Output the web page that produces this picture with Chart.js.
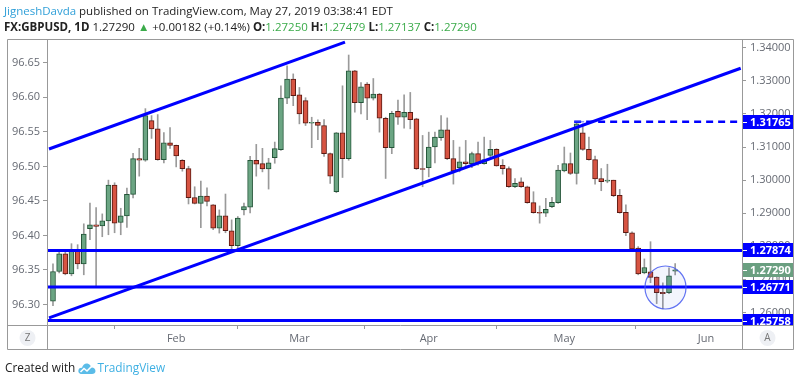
<!DOCTYPE html>
<html><head><meta charset="utf-8">
<script src="https://cdn.jsdelivr.net/npm/chart.js@4.4.1/dist/chart.umd.min.js"></script>
<style>
html,body{margin:0;padding:0;background:#fff;width:800px;height:384px;overflow:hidden}
#wrap{position:relative;width:800px;height:384px}
#c{position:absolute;left:0;top:0}
.t{position:absolute;white-space:nowrap;font-family:"Open Sans",sans-serif;color:#222;line-height:16px}
#h1{left:4px;top:3px;font-size:13px}
#h2{left:4px;top:19px;font-size:13px}
.au{color:#2f9fd8}
.g{color:#3bab4a}
#ft{left:5px;top:359px;font-size:12px;color:#222}
#ft .tv{color:#3fb0e3}
#ft svg{vertical-align:-3px;margin:0 1px 0 3px}
</style></head>
<body><div id="wrap">
<canvas id="c" width="800" height="384"></canvas>
<div class="t" id="h1"><span class="au">JigneshDavda</span> published on TradingView.com, May 27, 2019 03:38:41 EDT</div>
<div class="t" id="h2"><b>FX:GBPUSD, 1D</b> 1.27290 <span class="g">&#9650;</span> +0.00182 (+0.14%) <b>O:</b><span class="g">1.27250</span> <b>H:</b><span class="g">1.27479</span> <b>L:</b><span class="g">1.27137</span> <b>C:</b><span class="g">1.27290</span></div>
<div class="t" id="ft">Created with<svg width="18" height="14" viewBox="0 0 18 14"><path d="M4 13 C1 13 0 11 0.5 9 C1 7 3 6.5 4 7 C4.5 4 7 2 9.5 2.5 C12 3 13 5 13 6.5 C15.5 6 17.5 8 17.5 10 C17.5 12 16 13 14 13 Z" fill="#5bbce8"/><path d="M2.5 11 L6 7.5 L9 10 L14 5" stroke="#fff" stroke-width="1.6" fill="none"/></svg><span class="tv">TradingView</span></div>
</div>
<script>
// ---- data ----
const dates = ['2019-01-04','2019-01-07','2019-01-08','2019-01-09','2019-01-10','2019-01-11','2019-01-14','2019-01-15','2019-01-16','2019-01-17','2019-01-18','2019-01-21','2019-01-22','2019-01-23','2019-01-24','2019-01-25','2019-01-28','2019-01-29','2019-01-30','2019-01-31',
'2019-02-01','2019-02-04','2019-02-05','2019-02-06','2019-02-07','2019-02-08','2019-02-11','2019-02-12','2019-02-13','2019-02-14','2019-02-15','2019-02-18','2019-02-19','2019-02-20','2019-02-21','2019-02-22','2019-02-25','2019-02-26','2019-02-27','2019-02-28',
'2019-03-01','2019-03-04','2019-03-05','2019-03-06','2019-03-07','2019-03-08','2019-03-11','2019-03-12','2019-03-13','2019-03-14','2019-03-15','2019-03-18','2019-03-19','2019-03-20','2019-03-21','2019-03-22','2019-03-25','2019-03-26','2019-03-27','2019-03-28','2019-03-29',
'2019-04-01','2019-04-02','2019-04-03','2019-04-04','2019-04-05','2019-04-08','2019-04-09','2019-04-10','2019-04-11','2019-04-12','2019-04-15','2019-04-16','2019-04-17','2019-04-18','2019-04-19','2019-04-22','2019-04-23','2019-04-24','2019-04-25','2019-04-26','2019-04-29','2019-04-30',
'2019-05-01','2019-05-02','2019-05-03','2019-05-06','2019-05-07','2019-05-08','2019-05-09','2019-05-10','2019-05-13','2019-05-14','2019-05-15','2019-05-16','2019-05-17','2019-05-20','2019-05-21','2019-05-22','2019-05-23','2019-05-24','2019-05-27'];
const open  = [1.2634,1.2724,1.2777,1.2717,1.2790,1.2747,1.2853,1.2865,1.2862,1.2877,1.2985,1.2872,1.2892,1.2957,1.3065,1.3060,1.3180,1.3155,1.3062,1.3113,
1.3105,1.3060,1.3035,1.2947,1.2930,1.2952,1.2925,1.2855,1.2892,1.2847,1.2802,1.2910,1.2918,1.3060,1.3050,1.3034,1.3068,1.3092,1.3248,1.3305,
1.3258,1.3240,1.3172,1.3175,1.3165,1.3080,1.2965,1.3143,1.3065,1.3330,1.3234,1.3290,1.3248,1.3260,1.3187,1.3098,1.3208,1.3190,1.3205,1.3185,1.3035,
1.3038,1.3100,1.3128,1.3152,1.3065,1.3038,1.3055,1.3050,1.3080,1.3050,1.3075,1.3093,1.3045,1.3035,1.2980,1.2995,1.2980,1.2932,1.2903,1.2900,1.2920,1.2932,
1.3028,1.3050,1.3020,1.3143,1.3093,1.3062,1.3005,1.2997,1.3000,1.2954,1.2903,1.2841,1.2795,1.2720,1.2723,1.2707,1.2661,1.2660,1.2725];
const high  = [1.2747,1.2787,1.2787,1.2808,1.2805,1.2868,1.2931,1.2917,1.2898,1.3000,1.2992,1.2915,1.2976,1.3081,1.3096,1.3216,1.3195,1.3198,1.3144,1.3159,
1.3106,1.3062,1.3042,1.2980,1.2997,1.2977,1.2926,1.2910,1.2958,1.2880,1.2890,1.2931,1.3072,1.3108,1.3096,1.3066,1.3115,1.3285,1.3345,1.3321,
1.3280,1.3249,1.3190,1.3182,1.3183,1.3082,1.3144,1.3285,1.3378,1.3332,1.3295,1.3295,1.3307,1.3262,1.3190,1.3208,1.3242,1.3258,1.3265,1.3187,1.3135,
1.3145,1.3145,1.3195,1.3188,1.3120,1.3100,1.3120,1.3085,1.3115,1.3130,1.3120,1.3095,1.3062,1.3040,1.3005,1.3007,1.2982,1.2965,1.2922,1.2945,1.2948,1.3045,
1.3100,1.3082,1.31765,1.3170,1.3130,1.3073,1.3035,1.3048,1.3000,1.2972,1.2925,1.2844,1.2799,1.2762,1.2814,1.2708,1.2690,1.2735,1.27479];
const low   = [1.2621,1.2720,1.2714,1.2711,1.2732,1.2714,1.2820,1.2675,1.2829,1.2835,1.2841,1.2835,1.2857,1.2946,1.3012,1.3057,1.3126,1.3060,1.3052,1.3096,
1.3040,1.3027,1.2928,1.2928,1.2856,1.2922,1.2850,1.2840,1.2841,1.2781,1.2784,1.2895,1.2901,1.3012,1.3025,1.2973,1.3051,1.3090,1.3231,1.3225,
1.3170,1.3165,1.3098,1.3122,1.3072,1.2990,1.2962,1.3008,1.3060,1.3205,1.3200,1.3183,1.3242,1.3145,1.3005,1.3080,1.3168,1.3157,1.3155,1.3032,1.2980,
1.3010,1.3052,1.3120,1.3062,1.2988,1.3025,1.3038,1.3038,1.3045,1.3048,1.3070,1.3042,1.3018,1.2978,1.2977,1.2978,1.2930,1.2900,1.2870,1.2890,1.2917,1.2930,
1.3025,1.3017,1.2988,1.3090,1.3060,1.2988,1.2968,1.2992,1.2950,1.2900,1.2832,1.2790,1.2714,1.2717,1.2690,1.2627,1.2611,1.2657,1.27137];
const close = [1.2724,1.2777,1.2717,1.2790,1.2747,1.2837,1.2865,1.2860,1.2877,1.2985,1.2870,1.2892,1.2957,1.3065,1.3060,1.3195,1.3155,1.3062,1.3113,1.3105,
1.3073,1.3035,1.2947,1.2930,1.2952,1.2936,1.2855,1.2892,1.2847,1.2802,1.2885,1.2920,1.3060,1.3048,1.3034,1.3052,1.3095,1.3248,1.3305,1.3255,
1.3200,1.3172,1.3175,1.3165,1.3080,1.3012,1.3143,1.3065,1.3330,1.3234,1.3282,1.3248,1.3260,1.3187,1.3098,1.3202,1.3190,1.3205,1.3183,1.3035,1.3032,
1.3100,1.3130,1.3152,1.3065,1.3028,1.3055,1.3050,1.3080,1.3050,1.3062,1.3093,1.3043,1.3035,1.2980,1.2990,1.2980,1.2932,1.2902,1.2900,1.2912,1.2933,1.3030,
1.3050,1.3020,1.3170,1.3093,1.3062,1.3004,1.2995,1.3000,1.2953,1.2902,1.2841,1.2792,1.2717,1.2736,1.2706,1.2660,1.2657,1.2711,1.2729];
const monthTickIndex  = [20, 40, 61, 83, 106];
const monthTickLabels = ['Feb','Mar','Apr','May','Jun'];
const rightTicks = [1.26,1.27,1.28,1.29,1.30,1.31,1.32,1.33,1.34];
const leftTicks  = [96.30,96.35,96.40,96.45,96.50,96.55,96.60,96.65];
const levelLines = [1.27874, 1.26771, 1.25758];
const dashedLevel = 1.31765;
const dashedStartIndex = 84.6;
const lastPrice = 1.27290;
const channelUpper = [[-0.65, 1.3094], [47.4, 1.3417]];
const channelLower = [[-0.65, 1.2584], [111.64, 1.3338]];
const circleCenter = [99.43, 1.26756];
const circleRadius = [3.33, 0.0065];   // in bars, in price

// ---- chart ----
const GREEN='#6ba583', GREEN_B='#225437', RED='#d75442', RED_B='#5b1a13';
const BLUE='#0000ff';
const AX='#999999', TXT='#666a73';
const FONT='"Open Sans", sans-serif';
const up = close.map((c,i)=>c>=open[i]);

const overlay = {
  id:'overlay',
  afterDatasetsDraw(chart){
    const {ctx, chartArea:a, scales:{x,y}} = chart;
    ctx.save();
    ctx.beginPath(); ctx.rect(a.left,a.top,a.right-a.left,a.bottom-a.top); ctx.clip();
    ctx.strokeStyle=BLUE; ctx.lineWidth=3; ctx.lineCap='butt';
    levelLines.forEach(v=>{const yy=y.getPixelForValue(v); ctx.beginPath(); ctx.moveTo(a.left,yy); ctx.lineTo(a.right,yy); ctx.stroke();});
    [channelUpper, channelLower].forEach(l=>{
      ctx.beginPath(); ctx.moveTo(x.getPixelForValue(l[0][0]), y.getPixelForValue(l[0][1]));
      ctx.lineTo(x.getPixelForValue(l[1][0]), y.getPixelForValue(l[1][1])); ctx.stroke();
    });
    // dashed level
    const dy=y.getPixelForValue(dashedLevel), dx=x.getPixelForValue(dashedStartIndex);
    ctx.lineWidth=2.5; ctx.setLineDash([7,5]);
    ctx.beginPath(); ctx.moveTo(dx,dy); ctx.lineTo(a.right,dy); ctx.stroke();
    ctx.setLineDash([]);
    ctx.strokeStyle='rgba(60,80,255,0.6)'; ctx.lineWidth=1.5;
    ctx.beginPath(); ctx.moveTo(dx,dy); ctx.lineTo(dx+10,dy); ctx.stroke();
    // ellipse
    const cx=x.getPixelForValue(circleCenter[0]), cy=y.getPixelForValue(circleCenter[1]);
    const rx=Math.abs(x.getPixelForValue(circleCenter[0]+circleRadius[0])-cx);
    const ry=Math.abs(y.getPixelForValue(circleCenter[1]+circleRadius[1])-cy);
    ctx.beginPath(); ctx.ellipse(cx,cy,rx,ry,0,0,Math.PI*2);
    ctx.fillStyle='rgba(90,110,230,0.07)'; ctx.fill();
    ctx.strokeStyle='rgba(70,90,240,0.85)'; ctx.lineWidth=1.2; ctx.stroke();
    ctx.restore();
  },
  afterDraw(chart){
    const {ctx, chartArea:a, scales:{y}} = chart;
    ctx.save();
    // price boxes
    ctx.beginPath(); ctx.rect(a.right-1, a.top, 60, a.bottom-a.top); ctx.clip();
    const box=(v,col)=>{
      const yy=Math.round(y.getPixelForValue(v));
      ctx.fillStyle=col; ctx.fillRect(a.right, yy-7, 51, 14);
      ctx.strokeStyle='#ffffff'; ctx.lineWidth=1; ctx.beginPath(); ctx.moveTo(a.right+1,yy+0.5); ctx.lineTo(a.right+5,yy+0.5); ctx.stroke();
      ctx.fillStyle='#fff'; ctx.font='bold 11px '+FONT; ctx.textAlign='left'; ctx.textBaseline='middle';
      ctx.fillText(v.toFixed(5), a.right+8, yy+0.5);
    };
    box(lastPrice,'#6a9f80');
    box(dashedLevel,BLUE);
    levelLines.forEach(v=>box(v,BLUE));
    ctx.restore();
    // frame
    ctx.save();
    ctx.strokeStyle=AX; ctx.lineWidth=1;
    ctx.beginPath();
    ctx.rect(7.5, 39.5, 786, 310);
    ctx.moveTo(a.left-0.5, 39.5); ctx.lineTo(a.left-0.5, 349.5);
    ctx.moveTo(a.right+0.5, 39.5); ctx.lineTo(a.right+0.5, 349.5);
    ctx.moveTo(7.5, a.bottom+0.5); ctx.lineTo(793.5, a.bottom+0.5);
    ctx.stroke();
    // Z / A buttons
    [[27.5,'Z'],[767.5,'A']].forEach(([bx,t])=>{
      ctx.beginPath(); ctx.arc(bx,338,8,0,Math.PI*2); ctx.fillStyle='#eef0f4'; ctx.fill();
      ctx.fillStyle='#777'; ctx.font='10px '+FONT; ctx.textAlign='center'; ctx.textBaseline='middle'; ctx.fillText(t,bx,338.5);
    });
    ctx.restore();
  }
};

new Chart(document.getElementById('c'), {
  type:'bar',
  data:{
    labels: dates,
    datasets:[
      { label:'wick', data: dates.map((d,i)=>({x:i, y:[low[i],high[i]]})), backgroundColor:'#9a9a9a',
        barThickness:1, grouped:false, order:2, xAxisID:'x', yAxisID:'y' },
      { label:'body', data: dates.map((d,i)=>({x:i, y:[open[i],close[i]]})),
        backgroundColor: up.map(u=>u?GREEN:RED), borderColor: up.map(u=>u?GREEN_B:RED_B),
        borderWidth:1, borderSkipped:false, barThickness:5, grouped:false, order:1, xAxisID:'x', yAxisID:'y' }
    ]
  },
  options:{
    responsive:false, animation:false, devicePixelRatio:1, events:[],
    layout:{padding:{left:7, right:7, top:39, bottom:35}},
    plugins:{legend:{display:false}, tooltip:{enabled:false}},
    scales:{
      x:{ type:'linear', position:'bottom', min:-0.81, max:111.85, offset:false,
        grid:{display:true, drawOnChartArea:false, drawTicks:true, tickLength:4, color:AX},
        border:{display:false},
        ticks:{autoSkip:false, maxRotation:0, padding:3, color:TXT, font:{family:FONT, size:11},
          callback:v=>{const k=monthTickIndex.indexOf(v); return k>=0?monthTickLabels[k]:'';}},
        afterBuildTicks:s=>{s.ticks=monthTickIndex.map(v=>({value:v}));},
        afterFit:s=>{s.height=24;} },
      y:{ type:'linear', position:'right', min:1.25623, max:1.34264, beginAtZero:false,
        grid:{display:true, drawOnChartArea:false, drawTicks:true, tickLength:4, color:AX},
        border:{display:false},
        ticks:{padding:4, color:TXT, font:{family:FONT, size:11}, callback:v=>v.toFixed(5)},
        afterBuildTicks:s=>{s.ticks=rightTicks.map(v=>({value:v}));},
        afterFit:s=>{s.width=51;} },
      yL:{ type:'linear', position:'left', min:96.2703, max:96.6845, beginAtZero:false,
        grid:{display:true, drawOnChartArea:false, drawTicks:true, tickLength:5, color:AX},
        border:{display:false},
        ticks:{padding:3, color:TXT, font:{family:FONT, size:11}, callback:v=>v.toFixed(2)},
        afterBuildTicks:s=>{s.ticks=leftTicks.map(v=>({value:v}));},
        afterFit:s=>{s.width=41;} }
    }
  },
  plugins:[overlay]
});

// fit header/footer text widths to reference
function fit(id, target){
  const el=document.getElementById(id);
  const fs=parseFloat(getComputedStyle(el).fontSize);
  const w=el.getBoundingClientRect().width;
  if(w>0) el.style.fontSize=(fs*target/w).toFixed(2)+'px';
}
fit('h1', 389); fit('h2', 473); fit('ft', 160);
</script>
</body></html>
